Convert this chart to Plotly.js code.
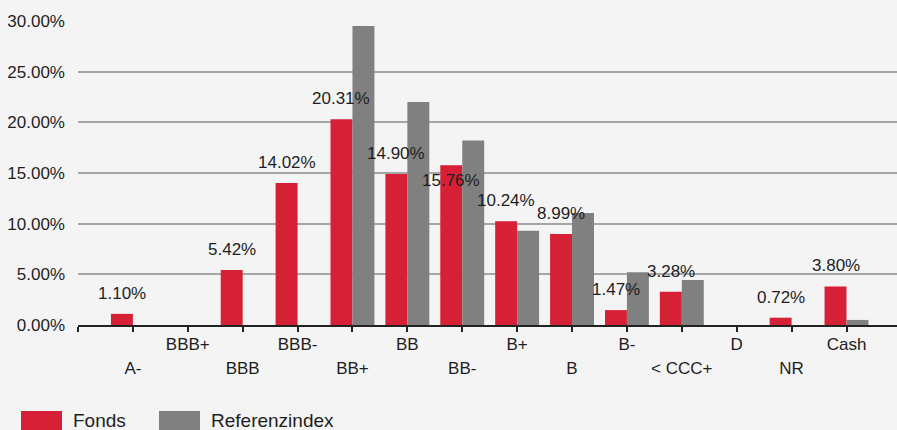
<!DOCTYPE html>
<html>
<head>
<meta charset="utf-8">
<script src="https://cdn.plot.ly/plotly-3.0.1.min.js"></script>
<style>
html,body{margin:0;padding:0;background:#f4f4f4;}
#chart{width:897px;height:430px;}
</style>
</head>
<body>
<div id="chart"></div>
<script>
const categories = ["A-","BBB+","BBB","BBB-","BB+","BB","BB-","B+","B","B-","< CCC+","D","NR","Cash"];
const fonds = [1.10, 0, 5.42, 14.02, 20.31, 14.90, 15.76, 10.24, 8.99, 1.47, 3.28, 0, 0.72, 3.80];
const referenzindex = [0, 0, 0, 0, 29.5, 22.0, 18.2, 9.3, 11.05, 5.2, 4.45, 0, 0, 0.5];
const yTicks = [0, 5, 10, 15, 20, 25, 30];
const seriesNames = ["Fonds", "Referenzindex"];
const colors = ["#d62036", "#808080"];

const idx = categories.map((c, i) => i);
const oddIdx = idx.filter(i => i % 2 === 1);
const evenIdx = idx.filter(i => i % 2 === 0);

const font = {family: "Liberation Sans, Arial, sans-serif", size: 17, color: "#1e1e1e"};
const xRange = [-1, 13.92];

const traces = [
  {
    type: "bar", name: seriesNames[0], x: idx, y: fonds,
    marker: {color: colors[0], line: {width: 0}},
    hoverinfo: "skip"
  },
  {
    type: "bar", name: seriesNames[1], x: idx, y: referenzindex,
    marker: {color: colors[1], line: {width: 0}},
    hoverinfo: "skip"
  },
  // carriers for the staggered category label axes (no visible marks)
  {type: "scatter", mode: "markers", x: oddIdx, y: oddIdx.map(() => null),
   xaxis: "x2", yaxis: "y", hoverinfo: "skip", showlegend: false, marker: {opacity: 0}},
  {type: "scatter", mode: "markers", x: evenIdx, y: evenIdx.map(() => null),
   xaxis: "x3", yaxis: "y", hoverinfo: "skip", showlegend: false, marker: {opacity: 0}}
];

const legendX = [21, 159];
const shapes = seriesNames.map((n, i) => ({
  type: "rect", xref: "paper", yref: "paper",
  x0: (legendX[i] - 78) / 819, x1: (legendX[i] + 41 - 78) / 819,
  y0: -106 / 304, y1: -86 / 304,
  fillcolor: colors[i], line: {width: 0}
}));
const annotations = seriesNames.map((n, i) => ({
  xref: "paper", yref: "paper",
  x: (legendX[i] + 50 - 78) / 819, y: -95.5 / 304,
  xanchor: "left", yanchor: "middle", showarrow: false,
  text: n, font: {family: font.family, size: 19, color: "#1e1e1e"}
}));
// value labels above Fonds bars (BB- label sits lower in the original)
const labelShiftPx = {"BB-": -15};
fonds.forEach((v, i) => {
  if (v > 0) {
    const s = labelShiftPx[categories[i]];
    annotations.push({
      xref: "x", yref: "y", x: i, y: v,
      xshift: -11, yshift: s !== undefined ? s : 20.5,
      xanchor: "center", yanchor: "middle", showarrow: false,
      text: v.toFixed(2) + "%", font: font
    });
  }
});

const labelAxis = (vals, standoff) => ({
  type: "linear", range: xRange, overlaying: "x", anchor: "y", side: "bottom",
  tickmode: "array", tickvals: vals, ticktext: vals.map(i => categories[i]),
  showgrid: false, zeroline: false, showline: false, ticks: "",
  ticklabelstandoff: standoff, tickfont: font, fixedrange: true
});

const layout = {
  width: 897, height: 430,
  margin: {l: 78, r: 0, t: 21, b: 105, pad: 0},
  paper_bgcolor: "#f4f4f4", plot_bgcolor: "#f4f4f4",
  font: font,
  showlegend: false,
  barmode: "group", bargap: 0.2, bargroupgap: 0,
  xaxis: {
    type: "linear", range: xRange,
    tickmode: "array", tickvals: [-1].concat(idx),
    showticklabels: false,
    showgrid: false, zeroline: false,
    showline: true, linecolor: "#222222", linewidth: 2,
    ticks: "outside", ticklen: 5, tickwidth: 2, tickcolor: "#222222",
    fixedrange: true
  },
  xaxis2: labelAxis(oddIdx, 7),
  xaxis3: labelAxis(evenIdx, 31),
  yaxis: {
    range: [0, 30],
    tickmode: "array", tickvals: yTicks,
    ticktext: yTicks.map(v => v.toFixed(2) + "%"),
    showgrid: true, gridcolor: "#a6a6a6", gridwidth: 2,
    zeroline: false, showline: false, ticks: "",
    ticklabelstandoff: 12,
    tickfont: font, fixedrange: true
  },
  shapes: shapes,
  annotations: annotations
};

Plotly.newPlot("chart", traces, layout, {displayModeBar: false, staticPlot: true});
</script>
</body>
</html>
